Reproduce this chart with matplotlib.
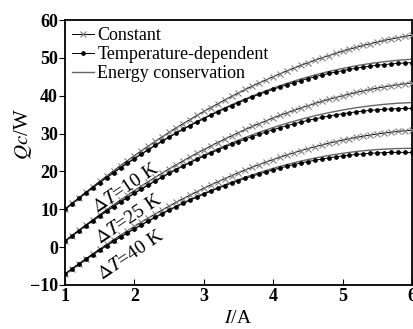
import matplotlib
matplotlib.use("Agg")
import matplotlib.pyplot as plt
import numpy as np

plt.rcParams["font.family"] = "Liberation Serif"
plt.rcParams["mathtext.fontset"] = "stix"

# current grid (markers every 0.1 A, smooth line every 0.2 A)
current = np.linspace(1, 6, 51)
current_line = np.linspace(1, 6, 26)

# Constant model
const_10 = [10.00, 11.53, 13.03, 14.51, 15.96, 17.39, 18.79, 20.17, 21.53, 22.86,
            24.16, 25.44, 26.69, 27.92, 29.13, 30.31, 31.47, 32.60, 33.70, 34.78,
            35.84, 36.87, 37.88, 38.86, 39.82, 40.75, 41.66, 42.54, 43.40, 44.23,
            45.04, 45.82, 46.58, 47.32, 48.03, 48.71, 49.37, 50.00, 50.61, 51.20,
            51.76, 52.30, 52.81, 53.29, 53.75, 54.19, 54.60, 54.99, 55.35, 55.69, 56.00]
const_25 = [1.60, 3.05, 4.46, 5.86, 7.22, 8.57, 9.89, 11.18, 12.46, 13.70,
            14.92, 16.12, 17.28, 18.43, 19.55, 20.65, 21.73, 22.77, 23.79, 24.78,
            25.76, 26.71, 27.63, 28.53, 29.40, 30.25, 31.08, 31.87, 32.65, 33.39,
            34.12, 34.82, 35.49, 36.15, 36.77, 37.37, 37.95, 38.49, 39.02, 39.52,
            40.00, 40.46, 40.88, 41.28, 41.65, 42.01, 42.34, 42.64, 42.92, 43.17, 43.40]
const_40 = [-7.10, -5.73, -4.39, -3.07, -1.78, -0.51, 0.73, 1.95, 3.15, 4.32,
            5.46, 6.58, 7.67, 8.74, 9.79, 10.81, 11.81, 12.78, 13.72, 14.64,
            15.54, 16.41, 17.26, 18.08, 18.88, 19.65, 20.40, 21.12, 21.82, 22.49,
            23.14, 23.76, 24.36, 24.94, 25.49, 26.01, 26.51, 26.98, 27.43, 27.86,
            28.26, 28.64, 28.99, 29.31, 29.61, 29.89, 30.14, 30.37, 30.57, 30.75, 30.90]

# Temperature-dependent model
temp_10 = [10.00, 11.47, 12.90, 14.31, 15.69, 17.05, 18.37, 19.67, 20.94, 22.18,
           23.39, 24.57, 25.73, 26.85, 27.96, 29.03, 30.07, 31.09, 32.07, 33.03,
           33.96, 34.86, 35.74, 36.58, 37.40, 38.19, 38.95, 39.68, 40.39, 41.06,
           41.71, 42.33, 42.92, 43.49, 44.02, 44.53, 45.01, 45.45, 45.88, 46.27,
           46.64, 46.98, 47.29, 47.57, 47.82, 48.05, 48.24, 48.41, 48.55, 48.67, 48.75]
temp_25 = [1.60, 2.99, 4.34, 5.68, 6.97, 8.25, 9.50, 10.72, 11.92, 13.08,
           14.21, 15.32, 16.39, 17.44, 18.47, 19.46, 20.44, 21.37, 22.28, 23.16,
           24.02, 24.85, 25.65, 26.42, 27.16, 27.87, 28.57, 29.22, 29.86, 30.45,
           31.03, 31.58, 32.09, 32.59, 33.05, 33.48, 33.90, 34.26, 34.62, 34.94,
           35.24, 35.51, 35.75, 35.96, 36.13, 36.29, 36.42, 36.52, 36.59, 36.63, 36.65]
temp_40 = [-7.10, -5.78, -4.50, -3.23, -2.00, -0.79, 0.38, 1.53, 2.66, 3.76,
           4.82, 5.86, 6.87, 7.86, 8.82, 9.75, 10.66, 11.54, 12.38, 13.20,
           14.00, 14.76, 15.50, 16.21, 16.90, 17.55, 18.18, 18.78, 19.35, 19.90,
           20.42, 20.90, 21.37, 21.81, 22.22, 22.59, 22.95, 23.27, 23.57, 23.84,
           24.08, 24.30, 24.49, 24.64, 24.78, 24.89, 24.96, 25.02, 25.04, 25.03, 25.00]

# Energy conservation model
energy_10 = [10.00, 12.90, 15.70, 18.38, 20.96, 23.43, 25.78, 28.03, 30.16, 32.19,
             34.10, 35.91, 37.61, 39.19, 40.67, 42.03, 43.29, 44.44, 45.48, 46.40,
             47.22, 47.93, 48.52, 49.00, 49.38, 49.65]
energy_25 = [1.60, 4.34, 6.98, 9.52, 11.96, 14.27, 16.48, 18.59, 20.60, 22.48,
             24.27, 25.95, 27.52, 28.99, 30.35, 31.59, 32.73, 33.77, 34.70, 35.52,
             36.23, 36.84, 37.33, 37.73, 38.02, 38.20]
energy_40 = [-7.10, -4.50, -1.99, 0.40, 2.69, 4.86, 6.93, 8.91, 10.77, 12.52,
             14.18, 15.71, 17.15, 18.48, 19.70, 20.82, 21.82, 22.73, 23.52, 24.21,
             24.78, 25.27, 25.63, 25.89, 26.05, 26.10]

dt_labels = [r"$\Delta T$=10 K", r"$\Delta T$=25 K", r"$\Delta T$=40 K"]
label_pos = [(1.88, 15.6), (1.92, 7.4), (1.95, -2.3)]

fig = plt.figure(figsize=(4.14, 3.29), dpi=100)
ax = fig.add_axes([0.157, 0.134, 0.838, 0.805])

consts = [const_10, const_25, const_40]
temps = [temp_10, temp_25, temp_40]
energies = [energy_10, energy_25, energy_40]
for k in range(3):
    ax.plot(current_line, energies[k], color="0.4", lw=1.0,
            label="Energy conservation" if k == 0 else None, zorder=2)
    ax.plot(current, consts[k], color="k", lw=0.7, marker="x", ms=4.3,
            mec="0.5", mew=0.8, label="Constant" if k == 0 else None, zorder=3)
    ax.plot(current, temps[k], color="k", lw=0.7, marker="o", ms=2.4,
            label="Temperature-dependent" if k == 0 else None, zorder=4)

for txt, (x, y) in zip(dt_labels, label_pos):
    ax.text(x, y, txt, fontsize=14, rotation=34, ha="center", va="center",
            rotation_mode="anchor")

ax.set_xlim(1, 6)
ax.set_ylim(-10, 60)
ax.set_xticks(range(1, 7))
ax.set_yticks(range(-10, 61, 10))
ax.tick_params(axis="x", direction="in", length=4, labelsize=13, pad=2)
ax.tick_params(axis="y", direction="out", length=4, labelsize=13, pad=1)
for lab in ax.get_xticklabels() + ax.get_yticklabels():
    lab.set_fontweight("bold")
for s in ax.spines.values():
    s.set_linewidth(1.3)

ax.set_xlabel(r"$I$/A", fontsize=14)
ax.xaxis.set_label_coords(0.5, -0.095)
ax.set_ylabel(r"$Qc$/W", fontsize=15)
ax.yaxis.set_label_coords(-0.09, 0.57)

handles, labels = ax.get_legend_handles_labels()
order = [1, 2, 0]
ax.legend([handles[i] for i in order], [labels[i] for i in order],
          loc="upper left", frameon=False, fontsize=13, handlelength=1.2,
          handletextpad=0.2, labelspacing=0.1, borderpad=0.2,
          borderaxespad=0.2)

fig.savefig("out.png", dpi=100)
